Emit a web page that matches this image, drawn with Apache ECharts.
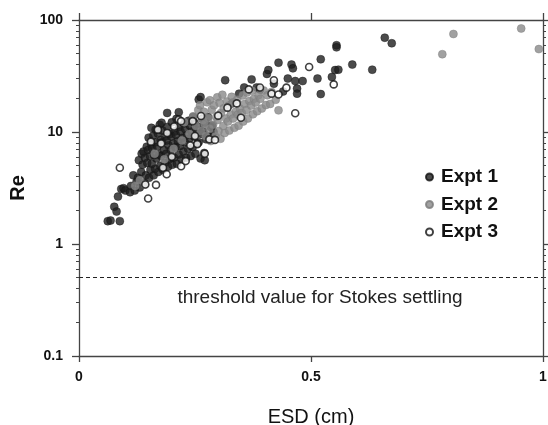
<!DOCTYPE html>
<html>
<head>
<meta charset="utf-8">
<script src="https://cdn.jsdelivr.net/npm/echarts@6/dist/echarts.min.js"></script>
<style>html,body{margin:0;padding:0;background:#fff;}#c{width:548px;height:425px;}</style>
</head>
<body>
<div id="c"></div>
<script>
// ---- data (ESD in cm, Re) ----
const xTicks = [0, 0.5, 1];
const yTicks = [0.1, 1, 10, 100];
const yMinorTicks = [0.2,0.3,0.4,0.5,0.6,0.7,0.8,0.9,2,3,4,5,6,7,8,9,20,30,40,50,60,70,80,90];
const threshold = 0.5;
const thresholdLabel = 'threshold value for Stokes settling';
const seriesNames = ['Expt 1', 'Expt 2', 'Expt 3'];

const expt1 = [
[0.062,1.6],[0.068,1.62],[0.088,1.6],[0.076,2.15],[0.081,1.95],[0.084,2.65],[0.091,3.1],[0.096,3.15],[0.100,3.0],
[0.110,2.9],[0.112,3.3],
[0.120,3.0],[0.124,3.6],[0.117,4.1],
[0.131,3.2],[0.127,3.9],[0.134,4.4],[0.129,5.6],[0.135,6.4],
[0.141,3.5],[0.144,4.1],[0.137,5.1],[0.142,5.9],[0.139,6.7],[0.146,7.4],
[0.151,3.9],[0.154,4.6],[0.147,5.3],[0.153,6.1],[0.149,6.9],[0.156,7.7],[0.150,8.9],[0.165,10.5],
[0.161,4.1],[0.164,4.7],[0.157,5.2],[0.162,6.2],[0.158,7.1],[0.166,8.1],[0.160,9.3],[0.156,10.9],
[0.171,4.4],[0.175,5.0],[0.167,5.8],[0.173,6.3],[0.169,7.4],[0.176,8.5],[0.170,9.7],[0.174,11.6],
[0.181,4.6],[0.185,5.3],[0.177,6.1],[0.183,6.9],[0.179,8.1],[0.186,9.1],[0.180,10.3],[0.178,12.1],
[0.192,4.9],[0.195,5.7],[0.188,6.4],[0.193,7.6],[0.189,8.4],[0.196,9.6],[0.190,11.1],[0.190,14.8],
[0.201,5.1],[0.205,5.9],[0.198,6.9],[0.203,7.9],[0.199,9.1],[0.206,10.1],[0.200,12.2],
[0.211,5.2],[0.215,6.3],[0.208,7.3],[0.213,8.3],[0.209,9.4],[0.216,11.1],[0.210,13.1],
[0.221,5.7],[0.225,6.7],[0.218,7.5],[0.223,8.9],[0.219,10.1],[0.226,11.9],[0.215,15.0],
[0.231,5.9],[0.235,7.1],[0.228,8.1],[0.233,9.4],[0.229,10.6],[0.236,12.6],
[0.241,6.1],[0.245,7.3],[0.238,8.7],[0.243,10.1],[0.239,11.4],[0.246,13.6],
[0.251,6.4],[0.255,7.9],[0.248,9.1],[0.253,10.4],[0.249,12.1],
[0.262,5.8],[0.258,8.1],[0.264,9.6],[0.259,11.1],[0.266,13.1],[0.258,19.5],[0.262,20.5],
[0.271,5.6],[0.270,6.5],[0.274,8.6],[0.268,10.1],[0.272,12.1],
[0.280,9.1],[0.284,11.1],[0.278,13.6],[0.290,10.0],[0.287,11.4],
[0.315,29],[0.330,18],[0.345,22],[0.356,25],[0.372,29.5],[0.383,25],[0.390,24],[0.405,33],[0.408,35.7],
[0.420,27],[0.430,41.6],[0.440,23],[0.450,30],[0.458,40],[0.461,37],[0.466,28.5],[0.470,24.4],[0.470,22],
[0.482,28.5],[0.514,30],[0.521,44.6],[0.521,21.8],[0.545,31],[0.555,59.5],[0.555,57],[0.552,35.7],[0.559,36],
[0.589,40],[0.632,36],[0.659,69.5],[0.674,62]
];

const expt2 = [
[0.131,3.7],[0.142,3.4],[0.121,3.3],[0.163,6.4],[0.184,5.7],[0.204,7.1],
[0.222,8.4],[0.227,12.2],[0.238,9.6],[0.246,13.8],[0.252,11.3],[0.257,15.7],
[0.263,10.2],[0.267,12.8],[0.261,17.3],[0.273,9.2],[0.271,11.8],[0.269,15.2],[0.276,18.4],
[0.284,8.3],[0.281,10.7],[0.279,13.3],[0.286,15.8],[0.282,19.2],
[0.294,9.1],[0.289,11.6],[0.296,13.7],[0.291,17.3],[0.298,20.4],
[0.305,8.7],[0.301,10.2],[0.299,12.8],[0.306,14.8],[0.303,18.2],[0.309,21.5],
[0.314,9.8],[0.311,11.3],[0.317,13.2],[0.312,16.3],[0.319,18.7],
[0.324,10.3],[0.321,12.4],[0.327,14.3],[0.323,17.2],[0.329,20.6],
[0.335,10.9],[0.332,13.2],[0.338,15.2],[0.333,18.4],
[0.344,11.4],[0.342,14.3],[0.347,16.2],[0.341,19.4],
[0.354,12.4],[0.351,14.8],[0.357,17.8],[0.353,21.2],
[0.364,13.2],[0.361,15.7],[0.367,18.9],[0.362,22.5],
[0.375,14.4],[0.371,17.2],[0.377,19.8],[0.373,23.4],
[0.384,15.3],[0.381,18.3],[0.387,21.3],
[0.394,16.2],[0.391,19.8],[0.398,23.5],
[0.403,17.4],[0.406,21.3],
[0.412,17.8],[0.415,22.8],
[0.424,19.4],[0.430,15.6],
[0.783,49.5],[0.807,75],[0.953,84],[0.991,55]
];

const expt3 = [
[0.088,4.8],[0.149,2.55],[0.143,3.4],[0.166,3.37],[0.177,7.9],[0.181,4.8],[0.189,4.2],[0.220,4.95],
[0.240,7.6],[0.255,7.8],[0.281,8.6],[0.293,8.5],[0.271,6.4],[0.215,12.9],[0.220,12.5],[0.263,13.9],
[0.245,12.5],[0.349,13.4],[0.366,24],[0.420,29],[0.415,22],[0.430,21.6],[0.447,24.9],[0.466,14.7],
[0.496,38],[0.549,26.6],[0.170,10.5],[0.200,6.0],[0.230,5.5],[0.300,14],[0.320,16.5],[0.340,18],
[0.390,25],[0.155,8.2],[0.190,9.8],[0.250,9.2],[0.205,11.2]
];

const FONT = 'Liberation Sans, Arial, Helvetica, sans-serif';
const AX = '#444';
const chart = echarts.init(document.getElementById('c'), null, {renderer: 'canvas'});

const logMin = Math.log10(yTicks[0]);
const logMax = Math.log10(yTicks[yTicks.length - 1]);

function minorAxis(pos) {
  return {
    type: 'value', position: pos, min: logMin, max: logMax, interval: 1,
    axisLine: {show: false, onZero: false}, splitLine: {show: false}, axisLabel: {show: false},
    axisTick: {show: true, inside: false, length: 3, lineStyle: {color: AX, width: 1},
      customValues: yMinorTicks.map(v => Math.log10(v))}
  };
}

const option = {
  animation: false,
  backgroundColor: '#fff',
  grid: {left: 79, right: 5, top: 20, bottom: 69, containLabel: false, outerBoundsMode: 'none'},
  legend: {
    orient: 'vertical', left: 425, top: 167, padding: 0, itemGap: 7.5,
    itemWidth: 13, itemHeight: 7, icon: 'circle',
    data: seriesNames,
    textStyle: {fontFamily: FONT, fontSize: 19, fontWeight: 'bold', color: '#111', lineHeight: 20}
  },
  xAxis: [
    {
      type: 'value', position: 'bottom', min: xTicks[0], max: xTicks[xTicks.length - 1], interval: 0.5,
      name: 'ESD (cm)', nameLocation: 'middle', nameGap: 51,
      nameTextStyle: {fontFamily: FONT, fontSize: 20, color: '#111'},
      axisLine: {show: true, onZero: false, lineStyle: {color: AX, width: 1.3}},
      axisTick: {show: true, inside: false, length: 6, lineStyle: {color: AX, width: 1.3}},
      axisLabel: {show: true, margin: 14, fontFamily: FONT, fontSize: 14, fontWeight: 'bold', color: '#111',
        formatter: v => String(v)},
      splitLine: {show: false}
    },
    {
      type: 'value', position: 'top', min: xTicks[0], max: xTicks[xTicks.length - 1], interval: 0.5,
      axisLine: {show: true, onZero: false, lineStyle: {color: AX, width: 1.3}},
      axisTick: {show: true, inside: false, length: 7, lineStyle: {color: AX, width: 1.3}},
      axisLabel: {show: false}, splitLine: {show: false}
    }
  ],
  yAxis: [
    {
      type: 'log', logBase: 10, position: 'left', min: yTicks[0], max: yTicks[yTicks.length - 1],
      name: 'Re', nameLocation: 'middle', nameGap: 46,
      nameTextStyle: {fontFamily: FONT, fontSize: 20, fontWeight: 'bold', color: '#111'},
      axisLine: {show: true, onZero: false, lineStyle: {color: AX, width: 1.3}},
      axisTick: {show: true, inside: false, length: 7, lineStyle: {color: AX, width: 1.3}},
      axisLabel: {show: true, margin: 16, fontFamily: FONT, fontSize: 14, fontWeight: 'bold', color: '#111',
        formatter: v => String(v)},
      splitLine: {show: false}, minorTick: {show: false}, minorSplitLine: {show: false}
    },
    minorAxis('left'),
    {
      type: 'log', logBase: 10, position: 'right', min: yTicks[0], max: yTicks[yTicks.length - 1],
      axisLine: {show: true, onZero: false, lineStyle: {color: AX, width: 1.3}},
      axisTick: {show: true, inside: false, length: 5, lineStyle: {color: AX, width: 1.3}},
      axisLabel: {show: false}, splitLine: {show: false}
    },
    minorAxis('right')
  ],
  series: [
    {
      name: seriesNames[0], type: 'scatter', xAxisIndex: 0, yAxisIndex: 0, data: expt1,
      symbol: 'circle', symbolSize: 8,
      itemStyle: {color: '#1e1e1e', borderColor: '#111', borderWidth: 0.5},
      markLine: {
        silent: true, symbol: 'none', animation: false,
        data: [{yAxis: threshold}],
        lineStyle: {color: '#222', width: 1.2, type: [4, 3]},
        label: {show: true, position: 'insideMiddleBottom', distance: 11, offset: [9, 0],
          formatter: thresholdLabel, fontFamily: FONT, fontSize: 19, color: '#222'},
        emphasis: {disabled: true}
      }
    },
    {
      name: seriesNames[1], type: 'scatter', xAxisIndex: 0, yAxisIndex: 0, data: expt2,
      symbol: 'circle', symbolSize: 8,
      itemStyle: {color: '#8a8a8a', borderColor: '#7a7a7a', borderWidth: 0.5}
    },
    {
      name: seriesNames[2], type: 'scatter', xAxisIndex: 0, yAxisIndex: 0, data: expt3,
      symbol: 'circle', symbolSize: 7,
      itemStyle: {color: '#ffffff', borderColor: '#111', borderWidth: 1.6}
    }
  ]
};
chart.setOption(option);
</script>
</body>
</html>
